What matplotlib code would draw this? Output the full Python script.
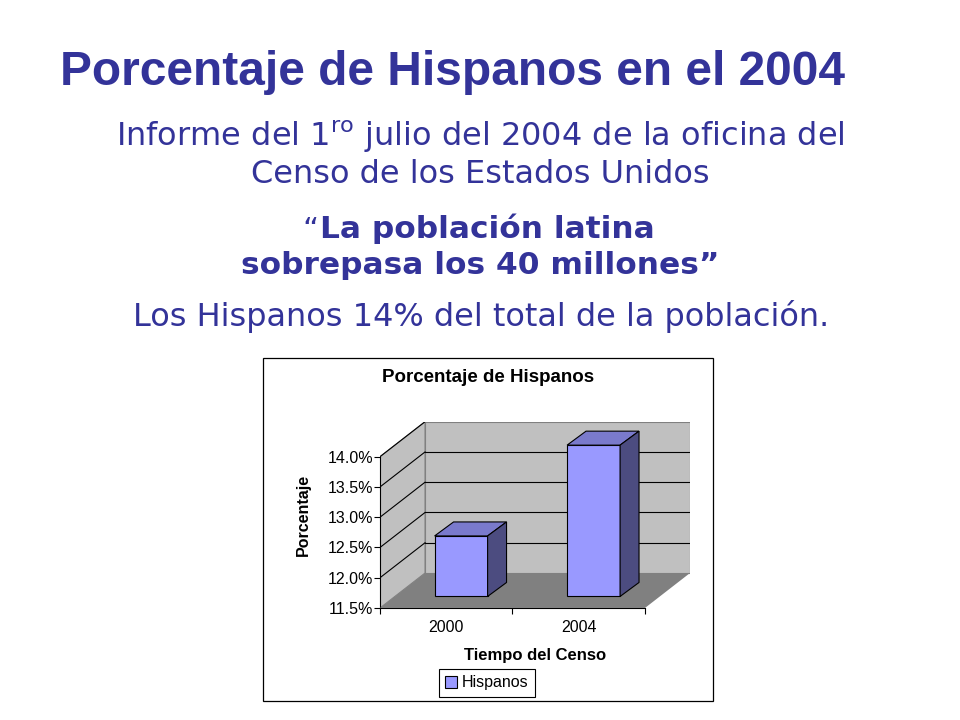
import matplotlib
matplotlib.use('Agg')
import matplotlib.pyplot as plt
import matplotlib.patches as mpatches
from matplotlib.text import Annotation

# ── datos ─────────────────────────────────────────────────────────────
years = ['2000', '2004']
pct = [12.5, 14.0]
yticks = [11.5, 12.0, 12.5, 13.0, 13.5, 14.0]
ytick_labels = ['11.5%', '12.0%', '12.5%', '13.0%', '13.5%', '14.0%']

# ── colores ───────────────────────────────────────────────────────────
NAVY = '#333399'
FRONT = '#9999FF'
TOP = '#7A7ACC'
SIDE = '#4C4C80'
WALL = '#C0C0C0'
FLOOR = '#808080'

ARIAL = 'Liberation Sans'
VERD = 'DejaVu Sans'

fig = plt.figure(figsize=(9.6, 7.2), dpi=100)
fig.patch.set_facecolor('white')


def fy(py):
    return 1 - py / 720


# ── textos de la diapositiva ──────────────────────────────────────────
fig.text(60/960, fy(85), 'Porcentaje de Hispanos en el 2004',
         ha='left', va='baseline', fontsize=34.5, fontweight='bold',
         color=NAVY, family=ARIAL)
fig.text(480/960, fy(146), r'Informe del 1$^{\rm ro}$ julio del 2004 de la oficina del',
         ha='center', va='baseline', fontsize=23, color=NAVY, family=VERD)
fig.text(480/960, fy(183), 'Censo de los Estados Unidos',
         ha='center', va='baseline', fontsize=23, color=NAVY, family=VERD)
t1 = fig.text(487/960, fy(238), 'La población latina',
              ha='center', va='baseline', fontsize=22.5, fontweight='bold',
              color=NAVY, family=VERD)
fig.add_artist(Annotation('\u201c', xy=(0, 1), xycoords=t1, xytext=(-1, -2),
                          textcoords='offset points', ha='right', va='top',
                          fontsize=22.5, color=NAVY, family=VERD))
fig.text(480/960, fy(274), 'sobrepasa los 40 millones\u201d',
         ha='center', va='baseline', fontsize=22.5, fontweight='bold',
         color=NAVY, family=VERD)
fig.text(481/960, fy(326), 'Los Hispanos 14% del total de la población.',
         ha='center', va='baseline', fontsize=23, color=NAVY, family=VERD)

# ── marco del gráfico ─────────────────────────────────────────────────
fig.patches.append(mpatches.Rectangle((263/960, fy(701)), 450/960, 343/720,
                                      transform=fig.transFigure, fill=False,
                                      edgecolor='black', linewidth=0.9))
fig.text(488/960, fy(377), 'Porcentaje de Hispanos', ha='center', va='center',
         fontsize=13.5, fontweight='bold', family=ARIAL)

# ── ejes pseudo-3D ────────────────────────────────────────────────────
ax = fig.add_axes([380/960, fy(608), 310/960, 186.3/720])
ymin, ymax = yticks[0], yticks[-1]
x0, x1 = -0.5, len(years) - 0.5
DX, DY = 0.34, 0.578           # profundidad de la caja
ax.set_xlim(x0, x1 + DX)
ax.set_ylim(ymin, ymax + DY)
ax.patch.set_alpha(0)

# pared lateral, pared del fondo, piso
ax.add_patch(mpatches.Polygon([(x0, ymin), (x0 + DX, ymin + DY), (x0 + DX, ymax + DY), (x0, ymax)],
                              facecolor=WALL, edgecolor=FLOOR, linewidth=0.8, zorder=1))
ax.add_patch(mpatches.Polygon([(x0 + DX, ymin + DY), (x1 + DX, ymin + DY), (x1 + DX, ymax + DY), (x0 + DX, ymax + DY)],
                              facecolor=WALL, edgecolor=FLOOR, linewidth=0.8, zorder=1))
for t in yticks[1:]:
    ax.plot([x0, x0 + DX], [t, t + DY], color='black', lw=0.8, zorder=2)
    if t < ymax:
        ax.plot([x0 + DX, x1 + DX], [t + DY, t + DY], color='black', lw=0.8, zorder=2)
ax.add_patch(mpatches.Polygon([(x0, ymin), (x1, ymin), (x1 + DX, ymin + DY), (x0 + DX, ymin + DY)],
                              facecolor=FLOOR, edgecolor='none', zorder=3))

# barras
bw = 0.4
bdx, bdy = 0.143, 0.231        # profundidad de cada barra
ox, oy = 0.33 * DX, 0.33 * DY  # posición de la cara frontal dentro de la caja
xs = list(range(len(years)))
bars = ax.bar([x + ox for x in xs], [v - ymin for v in pct], bottom=ymin + oy,
              width=bw, color=FRONT, edgecolor='black', linewidth=0.8, zorder=5,
              label='Hispanos')
for x, v in zip(xs, pct):
    l, r = x + ox - bw/2, x + ox + bw/2
    b, t = ymin + oy, v + oy
    ax.add_patch(mpatches.Polygon([(l, t), (r, t), (r + bdx, t + bdy), (l + bdx, t + bdy)],
                                  facecolor=TOP, edgecolor='black', linewidth=0.8, zorder=5))
    ax.add_patch(mpatches.Polygon([(r, b), (r + bdx, b + bdy), (r + bdx, t + bdy), (r, t)],
                                  facecolor=SIDE, edgecolor='black', linewidth=0.8, zorder=5))

# ejes
for s in ('top', 'right'):
    ax.spines[s].set_visible(False)
ax.spines['left'].set_bounds(ymin, ymax)
ax.spines['bottom'].set_bounds(x0, x1)
ax.spines['left'].set_linewidth(0.8)
ax.spines['bottom'].set_linewidth(0.8)
ax.set_yticks(yticks)
ax.set_yticklabels(ytick_labels, family=ARIAL, fontsize=11.5)
ax.tick_params(axis='y', length=4, width=0.8, pad=1)
ax.set_xticks(xs)
ax.set_xticklabels(years, family=ARIAL, fontsize=11.5)
ax.set_xticks([x0 + i for i in range(len(years) + 1)], minor=True)
ax.tick_params(axis='x', which='major', length=0, pad=9)
ax.tick_params(axis='x', which='minor', length=4, width=0.8)
ax.set_xlabel('Tiempo del Censo', family=ARIAL, fontsize=12, fontweight='bold', labelpad=9)
ax.set_ylabel('Porcentaje', family=ARIAL, fontsize=11.5, fontweight='bold', labelpad=12)

fig.legend(handles=[bars], labels=['Hispanos'], loc='center',
           bbox_to_anchor=(487/960, fy(683)), frameon=True, fancybox=False,
           edgecolor='black', framealpha=1, prop={'family': ARIAL, 'size': 11.5},
           handlelength=0.75, handleheight=0.75, handletextpad=0.3, borderpad=0.4,
           borderaxespad=0)
fig.legends[0].get_frame().set_linewidth(0.8)

fig.savefig('out.png', dpi=100, facecolor='white')
